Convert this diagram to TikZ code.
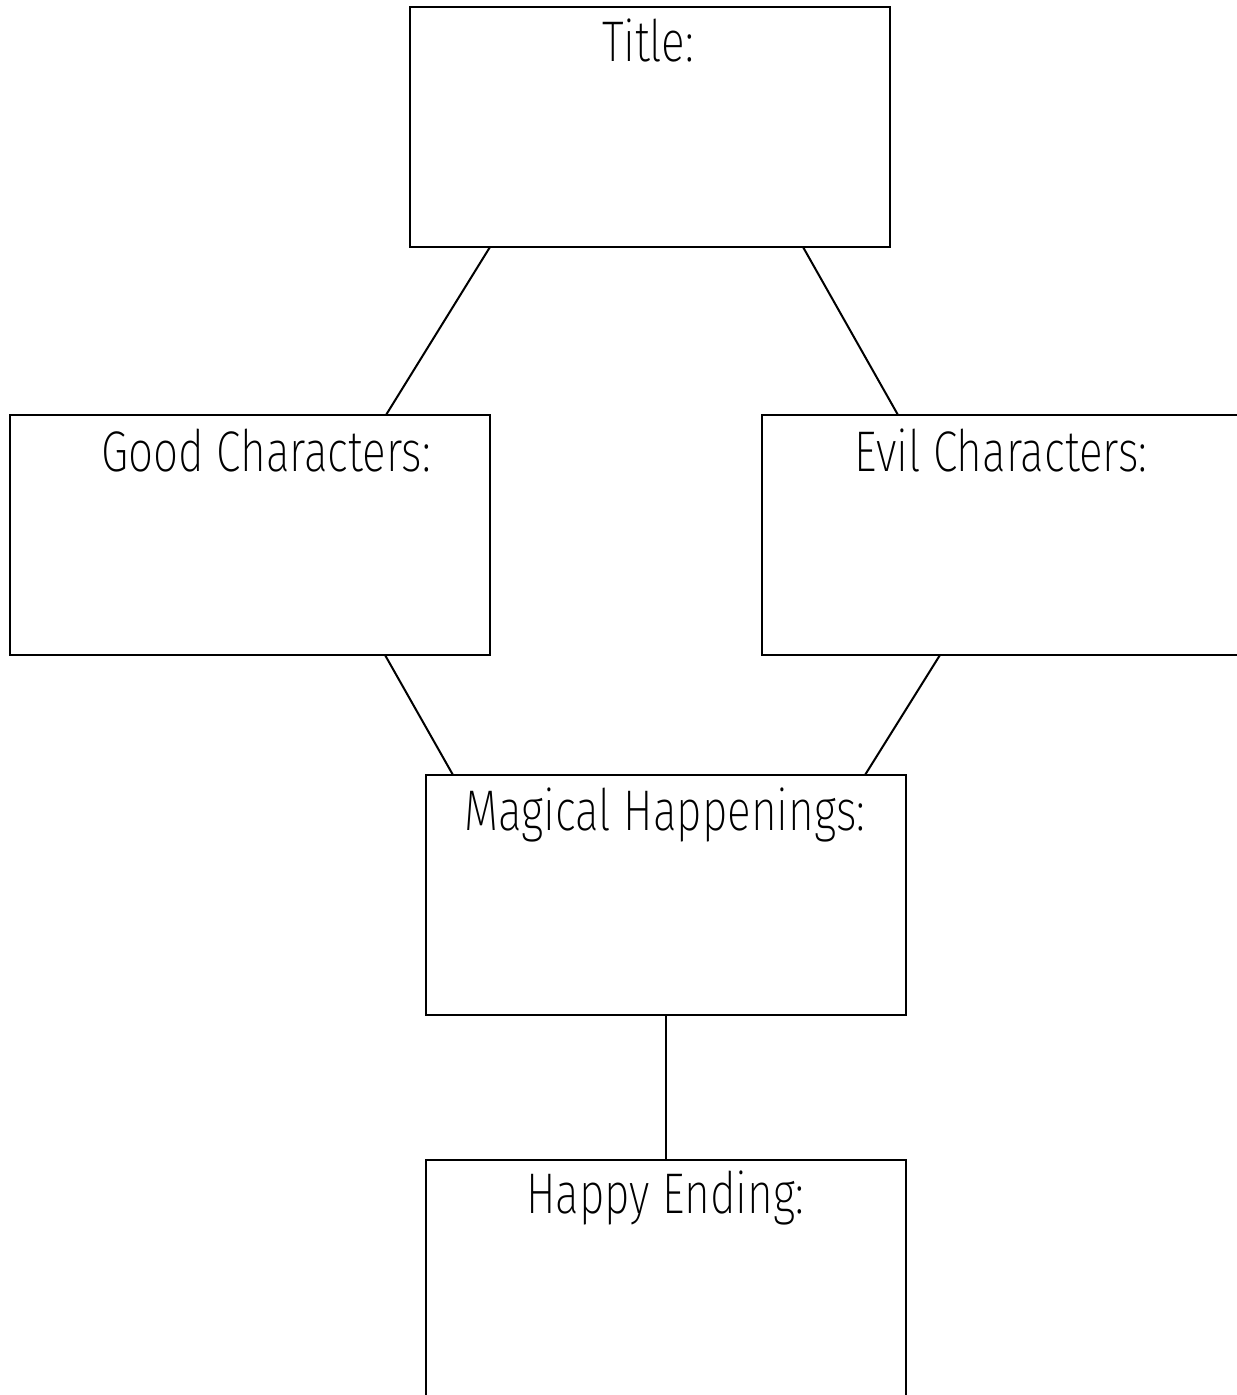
\documentclass[tikz,border=0pt]{standalone}
\usepackage{fontspec}
\newfontfamily\lab{Fira Sans ExtraLight}[FakeStretch=0.77]
\usetikzlibrary{calc}
\begin{document}
\begin{tikzpicture}[x=0.75pt,y=-0.75pt,
  box/.style={draw=black,line width=1.5pt,rectangle,minimum width=360pt,minimum height=180pt,inner sep=0pt,outer sep=0pt,fill=white},
  txt/.style={anchor=base,inner sep=0pt,font=\lab\fontsize{43}{48}\selectfont},
  conn/.style={draw=black,line width=1.5pt}]
\useasboundingbox[fill=white] (0,0) rectangle (1237,1395);
\begin{scope}
\clip (0,0) rectangle (1237,1395);
\node[box] (title) at (650,127) {};
\node[box] (good) at (250,535) {};
\node[box] (evil) at (1002,535) {};
\node[box] (magic) at (666,895) {};
\node[box] (happy) at (666,1280) {};
\node[txt] (ttitle) at (648,62) {Title:};
\node[txt] (tgood) at (266,471) {Good Characters:};
\node[txt] (tevil) at (1001,471) {Evil Characters:};
\node[txt] (tmagic) at (665,830) {Magical Happenings:};
\node[txt] (thappy) at (665,1213) {Happy Ending:};
\draw[conn] ($(title.south west)+(80,0)$) -- ($(good.north west)+(376,0)$);
\draw[conn] ($(title.south west)+(393,0)$) -- ($(evil.north west)+(136,0)$);
\draw[conn] ($(good.south west)+(375,0)$) -- ($(magic.north west)+(27,0)$);
\draw[conn] ($(evil.south west)+(178,0)$) -- ($(magic.north west)+(439,0)$);
\draw[conn] (magic.south) -- (happy.north);
\end{scope}
\end{tikzpicture}
\end{document}
